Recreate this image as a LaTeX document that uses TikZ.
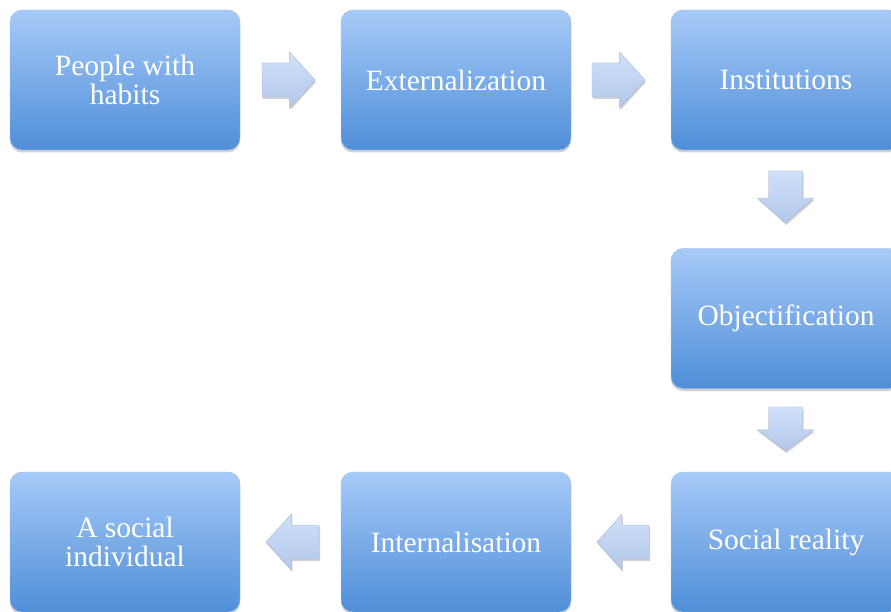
\documentclass[tikz,border=0pt]{standalone}
\usepackage{fontspec}
\setmainfont{Liberation Serif}
\usetikzlibrary{shadows,calc}
\definecolor{boxtop}{HTML}{A7CAF8}
\definecolor{boxbot}{HTML}{4F8ED8}
\definecolor{arrtop}{HTML}{D0E0F8}
\definecolor{arrbot}{HTML}{B2C7EB}
\tikzset{
  stagebox/.style={rounded corners=12pt, minimum width=230pt, minimum height=140pt,
    inner sep=0pt, top color=boxtop, bottom color=boxbot, draw=boxtop!85!gray, line width=0.4pt,
    text=white, align=center, font=\fontsize{29.5}{29}\selectfont,
    drop shadow={shadow xshift=0pt, shadow yshift=-2.5pt, opacity=0.18, fill=black}},
  blockarrow/.pic={
    \pgfmathsetmacro\L{#1}
    \pgfmathsetmacro\H{0.48*#1}
    \path[top color=arrtop, bottom color=arrbot, draw=arrbot!80!gray, line width=0.4pt,
      drop shadow={shadow xshift=1pt, shadow yshift=-2pt, opacity=0.18, fill=black}]
      ({-\L/2},-17) -- ({\L/2-\H},-17) -- ({\L/2-\H},-28) -- ({\L/2},0)
      -- ({\L/2-\H},28) -- ({\L/2-\H},17) -- ({-\L/2},17) -- cycle;
  }
}
\begin{document}
\begin{tikzpicture}[x=1pt,y=-1pt]
\clip (0,0) rectangle (891,612);
\fill[white] (0,0) rectangle (891,612);
\node[stagebox] (b1) at (125,80) {People with\\habits};
\node[stagebox] (b2) at (456,80) {Externalization};
\node[stagebox] (b3) at (786,80) {Institutions};
\node[stagebox] (b4) at (786,318.5) {Objectification};
\node[stagebox] (b5) at (786,542) {Social reality};
\node[stagebox] (b6) at (456,542) {Internalisation};
\node[stagebox] (b7) at (125,542) {A social\\individual};
\pic (a1) at (288.5,80) {blockarrow=53};
\pic (a2) at (618.5,80) {blockarrow=53};
\pic[rotate=-90] (a3) at (785.5,197) {blockarrow=52};
\pic[rotate=-90] (a4) at (785.5,429) {blockarrow=44};
\pic[rotate=180] (a5) at (623,542) {blockarrow=52};
\pic[rotate=180] (a6) at (292.5,542) {blockarrow=53};
\end{tikzpicture}
\end{document}
